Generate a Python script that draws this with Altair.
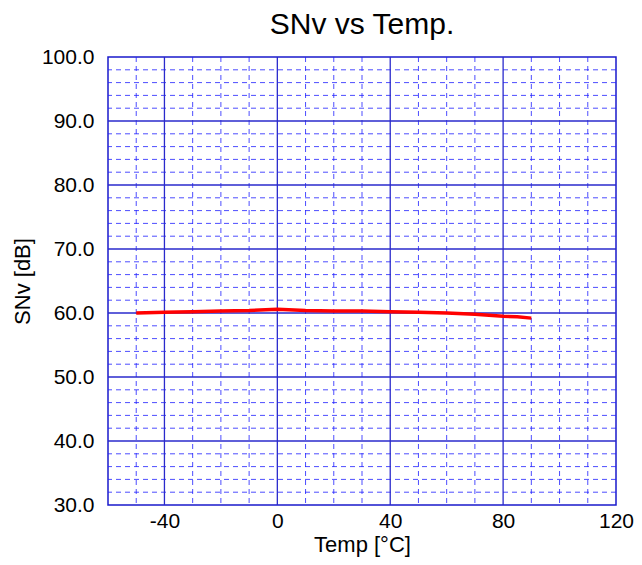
import altair as alt
import pandas as pd

# data
temps = [-50, -40, -30, -20, -10, 0, 10, 20, 30, 40, 50, 60, 70, 80, 85, 90]
snv = [60.0, 60.1, 60.2, 60.3, 60.4, 60.6, 60.4, 60.3, 60.3, 60.2, 60.1, 60.0, 59.8, 59.5, 59.4, 59.2]

x_major = [-40, 0, 40, 80]
x_minor = [-50, -30, -20, -10, 10, 20, 30, 50, 60, 70, 90, 100, 110]
y_major = [40, 50, 60, 70, 80, 90]
y_minor = [v for v in range(32, 100, 2) if v % 10 != 0]
x_labels = [-40, 0, 40, 80, 120]
y_labels = [30, 40, 50, 60, 70, 80, 90, 100]

df = pd.DataFrame({"t": temps, "s": snv})
xs = alt.Scale(domain=[-60, 120], nice=False, zero=False)
ys = alt.Scale(domain=[30, 100], nice=False, zero=False)

FONT = "Liberation Sans"

xaxis = alt.Axis(values=x_labels, grid=False, ticks=False, domain=False,
                 labelExpr="'' + datum.value",
                 labelFontSize=21, titleFontSize=22, labelPadding=5,
                 titlePadding=3, labelColor="black", titleColor="black",
                 labelFont=FONT, titleFont=FONT, titleFontWeight="normal",
                 labelFlush=False, labelOverlap=False)
yaxis = alt.Axis(values=y_labels, format=".1f", grid=False, ticks=False,
                 domain=False, labelFontSize=21, titleFontSize=22,
                 labelPadding=14, titlePadding=7, labelColor="black",
                 titleColor="black", labelFont=FONT, titleFont=FONT,
                 titleFontWeight="normal", labelFlush=False,
                 labelOverlap=False)
XT = "Temp [°C]"
YT = "SNv [dB]"

vminor = alt.Chart(pd.DataFrame({"t": x_minor})).mark_rule(
    color="#2020ff", strokeWidth=1, strokeDash=[5, 4], opacity=0.8
).encode(x=alt.X("t:Q", scale=xs, axis=xaxis, title=XT))
hminor = alt.Chart(pd.DataFrame({"s": y_minor})).mark_rule(
    color="#2020ff", strokeWidth=1, strokeDash=[5, 4], opacity=0.8
).encode(y=alt.Y("s:Q", scale=ys, axis=yaxis, title=YT))
vmajor = alt.Chart(pd.DataFrame({"t": x_major})).mark_rule(
    color="#2a2acc", strokeWidth=1.3
).encode(x=alt.X("t:Q", scale=xs, axis=xaxis, title=XT))
hmajor = alt.Chart(pd.DataFrame({"s": y_major})).mark_rule(
    color="#2a2acc", strokeWidth=1.3
).encode(y=alt.Y("s:Q", scale=ys, axis=yaxis, title=YT))

line = alt.Chart(df).mark_line(color="#ff0000", strokeWidth=3.5).encode(
    x=alt.X("t:Q", scale=xs, title=XT, axis=xaxis),
    y=alt.Y("s:Q", scale=ys, title=YT, axis=yaxis),
)

chart = alt.layer(vminor, hminor, vmajor, hmajor, line).properties(
    width=508, height=448,
    title=alt.TitleParams("SNv vs Temp.", fontSize=30, font=FONT,
                          fontWeight="normal", color="black", offset=6),
    autosize=alt.AutoSizeParams(type="none"),
    padding={"left": 100, "top": 49, "right": 18, "bottom": 52},
).configure(background="white").configure_view(stroke="#1a1acc", strokeWidth=1.5)

chart.save("out.html", embed_options={"renderer": "svg", "actions": False})
